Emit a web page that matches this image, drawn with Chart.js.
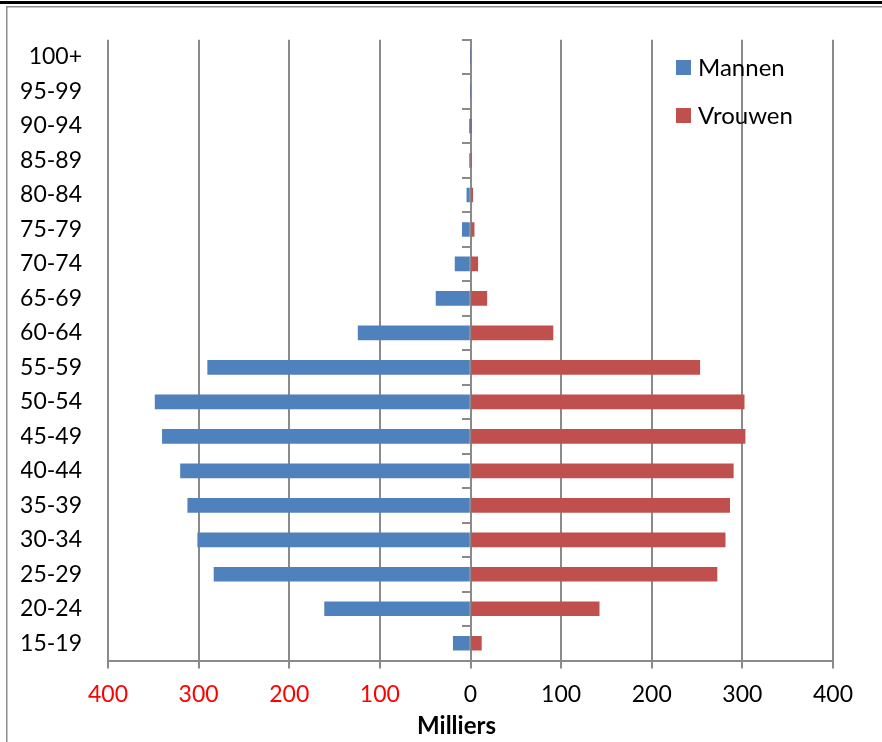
<!DOCTYPE html>
<html>
<head>
<meta charset="utf-8">
<script src="https://cdn.jsdelivr.net/npm/chart.js@4/dist/chart.umd.min.js"></script>
<style>
  html, body { margin: 0; padding: 0; background: #ffffff; }
  #wrap { position: relative; width: 882px; height: 742px; }
  canvas { display: block; }
</style>
</head>
<body>
<div id="wrap"><canvas id="c" width="882" height="742"></canvas></div>
<script>
// Age groups (top to bottom)
const categories = ['100+','95-99','90-94','85-89','80-84','75-79','70-74','65-69','60-64',
                    '55-59','50-54','45-49','40-44','35-39','30-34','25-29','20-24','15-19'];
// Values in thousands (Milliers)
const mannen  = [0, 0, 0.2, 1.2, 4, 9, 17, 38, 124, 290, 348, 340, 320, 312, 301, 283, 161, 19];
const vrouwen = [0, 0, 0.1, 0.6, 2.5, 4, 8, 18, 91, 253, 302, 303, 290, 286, 281, 272, 142, 12];
const seriesNames = ['Mannen', 'Vrouwen'];
const seriesColors = ['#4F81BD', '#C0504D'];
const xTicks = [-400, -300, -200, -100, 0, 100, 200, 300, 400];
const axisTitle = 'Milliers';

const GRID = '#8a8a8a';
const FONT = 'Lato, "Open Sans", sans-serif';
Chart.defaults.font.family = FONT;
Chart.defaults.font.size = 23;
Chart.defaults.color = '#000000';

const framePlugin = {
  id: 'frame',
  beforeDraw(chart) {
    const ctx = chart.ctx;
    ctx.save();
    ctx.fillStyle = '#ffffff';
    ctx.fillRect(0, 0, chart.width, chart.height);
    ctx.fillStyle = '#000000';
    ctx.fillRect(0, 1, chart.width, 3);
    ctx.fillStyle = '#8c8c8c';
    ctx.fillRect(6, 6, chart.width - 6, 1.5);
    ctx.fillRect(6, 6, 1.5, chart.height - 6);
    ctx.restore();
  }
};

const legendPlugin = {
  id: 'customLegend',
  afterDraw(chart) {
    const ctx = chart.ctx;
    ctx.save();
    ctx.font = '24px ' + FONT;
    ctx.textBaseline = 'middle';
    ctx.textAlign = 'left';
    chart.data.datasets.forEach((ds, i) => {
      const y = 60 + i * 48;
      ctx.fillStyle = ds.backgroundColor;
      ctx.fillRect(676, y, 15, 15);
      ctx.fillStyle = '#000000';
      ctx.fillText(ds.label, 698, y + 8);
    });
    // axis title
    const a = chart.chartArea;
    ctx.font = 'bold 24px ' + FONT;
    ctx.textAlign = 'center';
    ctx.fillText(axisTitle, (a.left + a.right) / 2 - 14, 726);
    ctx.restore();
  }
};

new Chart(document.getElementById('c'), {
  type: 'bar',
  data: {
    labels: categories,
    datasets: [
      { label: seriesNames[0], data: mannen.map(v => -v), backgroundColor: seriesColors[0], barThickness: 14, yAxisID: 'y' },
      { label: seriesNames[1], data: vrouwen, backgroundColor: seriesColors[1], barThickness: 14, yAxisID: 'y' }
    ]
  },
  options: {
    indexAxis: 'y',
    responsive: false,
    animation: false,
    layout: { padding: { left: 21, top: 39.5, right: 49, bottom: 0 } },
    plugins: { legend: { display: false }, tooltip: { enabled: false }, title: { display: false } },
    scales: {
      x: {
        type: 'linear',
        stacked: true,
        min: -400, max: 400,
        afterBuildTicks: (scale) => { scale.ticks = xTicks.map(v => ({ value: v })); },
        afterFit: (scale) => { scale.height = 81.5; },
        ticks: {
          padding: 12,
          color: (c) => (c.tick && c.tick.value < 0 ? '#FF0000' : '#000000'),
          callback: (v) => String(Math.abs(v))
        },
        grid: { color: GRID, lineWidth: 2, drawTicks: true, tickLength: 8 },
        border: { display: true, color: GRID, width: 2 }
      },
      y: {
        type: 'category',
        stacked: true,
        position: 'left',
        afterFit: (scale) => { scale.width = 87; },
        ticks: { padding: 26, color: '#000000' },
        grid: { display: false, drawTicks: false },
        border: { display: false }
      },
      y2: {
        type: 'category',
        position: { x: 0 },
        offset: true,
        z: 1,
        ticks: { display: false },
        grid: { offset: true, drawOnChartArea: false, drawTicks: true, tickLength: 8, color: GRID, lineWidth: 2 },
        border: { display: true, color: GRID, width: 2 }
      }
    }
  },
  plugins: [framePlugin, legendPlugin]
});
</script>
</body>
</html>
